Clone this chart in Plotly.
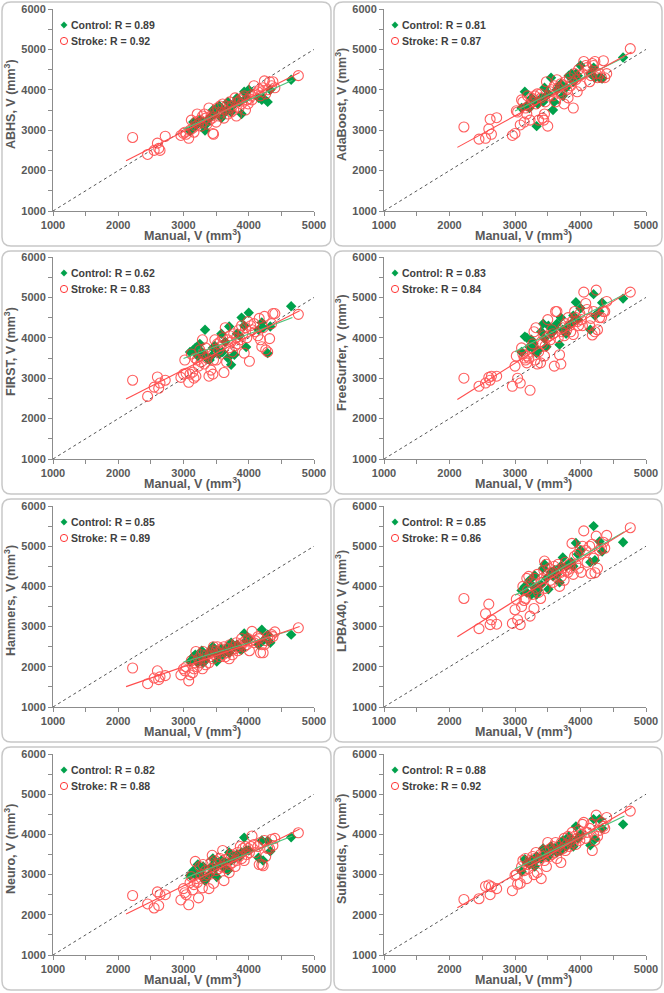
import numpy as np
import plotly.graph_objects as go

# ---------------- data ----------------
panel_names = ["ABHS", "AdaBoost", "FIRST", "FreeSurfer", "Hammers", "LPBA40", "Neuro", "Subfields"]
control_r = ["0.89", "0.81", "0.62", "0.83", "0.85", "0.85", "0.82", "0.88"]
stroke_r = ["0.92", "0.87", "0.83", "0.84", "0.89", "0.86", "0.88", "0.92"]

x_ticks = [1000, 2000, 3000, 4000, 5000]
y_ticks = [1000, 2000, 3000, 4000, 5000, 6000]

# manual volumes (shared across methods)
stroke_manual = [
    2220, 2450, 2550, 2600, 2620, 2640, 2720, 2960, 3000, 3020,
    3040, 3080, 3100, 3120, 3140, 3160, 3180, 3190, 3210, 3230,
    3250, 3270, 3290, 3300, 3320, 3340, 3360, 3390, 3400, 3420,
    3440, 3450, 3460, 3480, 3500, 3520, 3540, 3560, 3580, 3600,
    3620, 3640, 3660, 3680, 3700, 3710, 3730, 3750, 3770, 3790,
    3810, 3830, 3850, 3870, 3890, 3910, 3930, 3950, 3970, 3990,
    4010, 4030, 4050, 4080, 4100, 4140, 4160, 4180, 4200, 4220,
    4240, 4260, 4290, 4320, 4350, 4370, 4400, 4760]
control_manual = [
    3100, 3150, 3180, 3220, 3250, 3280, 3300, 3330, 3350, 3400,
    3430, 3450, 3480, 3510, 3550, 3580, 3600, 3640, 3680, 3700,
    3730, 3780, 3820, 3860, 3890, 3930, 3960, 4000, 4150, 4200,
    4220, 4290, 4330, 4650]

stroke_abhs = [
    2820, 2400, 2500, 2680, 2550, 2500, 2850, 2870, 2920, 2950,
    2900, 2800, 3000, 3250, 3050, 2950, 3100, 3200, 3400, 3150,
    3250, 3100, 3350, 3200, 3400, 3300, 3150, 3550, 3250, 3350,
    3300, 2920, 2900, 3450, 3200, 3550, 3350, 3600, 3450, 3650,
    3300, 3500, 3600, 3400, 3550, 3700, 3450, 3600, 3500, 3800,
    3350, 3700, 3550, 3750, 3650, 3800, 3850, 3500, 3750, 3650,
    3780, 3850, 3750, 4100, 3900, 3950, 4000, 3850, 3950, 4050,
    4220, 3900, 4000, 4200, 4100, 4200, 4050, 4350]
control_abhs = [
    2980, 3200, 3100, 3200, 3250, 3150, 3200, 2990, 3150, 3300,
    3350, 3500, 3400, 3550, 3600, 3300, 3500, 3450, 3700, 3550,
    3450, 3650, 3800, 3700, 3400, 3950, 3800, 4000, 3800, 3750,
    3800, 3700, 4000, 4250]

stroke_adaboost = [
    3080, 2780, 2800, 3030, 3270, 2900, 3310, 2870, 2920, 3480,
    3450, 3130, 3750, 3700, 3200, 3550, 3400, 3850, 3600, 3250,
    3800, 3700, 3750, 3850, 3650, 3900, 3250, 3900, 3800, 3300,
    3250, 3400, 3700, 4200, 3100, 3850, 3950, 4000, 3850, 4100,
    3700, 4250, 4050, 3950, 4150, 3900, 4100, 3650, 4200, 4000,
    3800, 4300, 4100, 4200, 3550, 4400, 4250, 3950, 4500, 4350,
    4100, 4400, 4700, 4600, 4550, 4200, 4350, 4650, 4600, 4700,
    4400, 4300, 4400, 4300, 4720, 4300, 4400, 5020]
control_adaboost = [
    3550, 3950, 3600, 3550, 3800, 3750, 3700, 3100, 3650, 3800,
    3700, 4050, 3850, 3900, 4300, 3500, 3700, 4000, 4100, 4150,
    3850, 4050, 4350, 4400, 4200, 4400, 4350, 4600, 4400, 4550,
    4300, 4300, 4280, 4800]

stroke_first = [
    2950, 2550, 2780, 3030, 2750, 2880, 2950, 3020, 3100, 3450,
    3120, 2900, 3100, 3600, 3150, 3000, 3500, 3050, 3450, 3300,
    3700, 3400, 3950, 3600, 3350, 3750, 3500, 3050, 3600, 3200,
    3650, 3100, 3450, 3950, 3450, 3850, 3700, 3900, 3800, 4000,
    3140, 4250, 3400, 3950, 3750, 4050, 3900, 3650, 4100, 3800,
    4000, 3850, 4200, 3950, 4300, 4100, 3620, 4250, 4000, 4400,
    3420, 4300, 4200, 4350, 4150, 4050, 4480, 3950, 3780, 4250,
    4530, 3700, 3650, 3980, 4350, 4600, 4600, 4580]
control_first = [
    3650, 3700, 3750, 3550, 3850, 3650, 3600, 4200, 3500, 3450,
    3550, 3750, 3800, 3700, 3600, 4100, 3650, 3900, 3500, 4280,
    3330, 3580, 4100, 4050, 4500, 4300, 3770, 4620, 4200, 4380,
    4250, 3620, 4280, 4780]

stroke_freesurfer = [
    3000, 2800, 2880, 3020, 2950, 3050, 3050, 2800, 3300, 3550,
    3000, 2880, 3750, 3600, 3500, 3450, 3380, 3550, 3500, 2700,
    3750, 3850, 4150, 3450, 4250, 3350, 3650, 3380, 3900, 3850,
    4050, 3550, 3800, 4000, 4450, 4050, 3950, 4200, 4100, 3300,
    4650, 4650, 4000, 3580, 3350, 4150, 4250, 4050, 4350, 4200,
    4500, 4300, 4150, 4400, 4080, 4650, 4500, 4400, 4300, 4600,
    4450, 4300, 5130, 4850, 4700, 4300, 4480, 4070, 4650, 4150,
    5180, 4200, 4500, 4500, 4650, 4650, 4900, 5130]
control_freesurfer = [
    3650, 4030, 4000, 3780, 3950, 3850, 3700, 3620, 3680, 4150,
    4350, 3980, 3780, 4300, 4100, 4150, 4250, 4350, 3830, 4500,
    4200, 4100, 4300, 4350, 4550, 4880, 4450, 4730, 4200, 5080,
    4550, 4650, 4870, 4970]

stroke_hammers = [
    1970, 1580, 1720, 1900, 1680, 1750, 1780, 1800, 1950, 1900,
    2000, 1650, 1800, 2150, 1850, 1950, 2100, 2380, 2000, 2200,
    2100, 2300, 1950, 2380, 2200, 2050, 2300, 2100, 2250, 2350,
    2400, 2200, 2500, 2300, 2400, 2500, 2350, 2250, 2450, 2300,
    2500, 2250, 2350, 2450, 2200, 2550, 2400, 2300, 2500, 2450,
    2600, 2400, 2500, 2550, 2700, 2600, 2500, 2650, 2550, 2700,
    2400, 2650, 2880, 2600, 2650, 2750, 2700, 2350, 2550, 2350,
    2550, 2650, 2750, 2700, 2800, 2750, 2870, 2970]
control_hammers = [
    2130, 2250, 2300, 2100, 2200, 2400, 2100, 2150, 2300, 2350,
    2450, 2500, 2350, 2130, 2300, 2450, 2300, 2400, 2500, 2350,
    2600, 2500, 2550, 2450, 2420, 2830, 2650, 2700, 2550, 2920,
    2650, 2800, 2600, 2800]

stroke_lpba40 = [
    3700, 2950, 3320, 3560, 3050, 3170, 3060, 3080, 3420, 3680,
    3170, 3050, 3500, 4000, 3650, 3700, 4200, 3900, 4250, 3260,
    4100, 3800, 3450, 4200, 3950, 4300, 3850, 3700, 4100, 4200,
    4400, 4630, 3950, 4550, 4300, 4450, 4150, 4350, 4100, 4500,
    4250, 4400, 4550, 4000, 4350, 4250, 4450, 4150, 4600, 4400,
    4350, 4550, 4450, 5070, 4300, 4750, 4550, 4800, 4450, 4900,
    4350, 5000, 5380, 4900, 4600, 5000, 4320, 5050, 4700, 4340,
    5250, 4450, 4900, 4950, 5100, 4950, 5270, 5460]
control_lpba40 = [
    3900, 4000, 3850, 4150, 3800, 4000, 4270, 3800, 3900, 4050,
    4450, 4550, 4200, 3930, 4350, 4250, 4400, 4300, 4100, 4500,
    4720, 4500, 4550, 4600, 4500, 5080, 4800, 4900, 4600, 5500,
    4650, 5120, 4870, 5100]

stroke_neuro = [
    2480, 2270, 2170, 2570, 2230, 2500, 2500, 2370, 2650, 2550,
    2500, 2250, 2800, 2950, 2620, 2750, 3330, 2900, 2800, 2420,
    3200, 3000, 2670, 3250, 2950, 3100, 3000, 2650, 3050, 3300,
    3480, 3150, 2780, 3350, 3100, 3250, 3150, 3400, 3200, 3600,
    2850, 3300, 3150, 3400, 3050, 3250, 3500, 3300, 3450, 3200,
    3350, 3550, 3450, 3700, 3400, 3650, 3350, 3700, 3500, 3650,
    3550, 3700, 3960, 3750, 3550, 3700, 3250, 3800, 3250, 3220,
    3850, 3450, 3650, 3640, 3880, 3720, 3900, 4040]
control_neuro = [
    2980, 3100, 3000, 3250, 3050, 2950, 3200, 2850, 2900, 3000,
    3200, 3400, 3150, 2940, 3300, 3350, 3200, 3300, 3100, 3550,
    3350, 3400, 3500, 3450, 3550, 3920, 3600, 3600, 3420, 3850,
    3350, 3840, 3580, 3930]

stroke_subfields = [
    2380, 2400, 2710, 2740, 2500, 2700, 2650, 2600, 2980, 3000,
    2760, 2780, 3200, 3350, 3100, 3400, 2900, 3250, 3150, 3350,
    3300, 3450, 3000, 3400, 3550, 3050, 3350, 3500, 2900, 3450,
    3600, 3350, 3550, 3200, 3800, 3450, 3650, 3500, 3700, 3550,
    3800, 3400, 3700, 3600, 3300, 3800, 3650, 3900, 3600, 3750,
    3950, 3700, 3850, 4050, 3800, 3950, 3750, 3900, 4100, 3850,
    4000, 4250, 4300, 3900, 4050, 4150, 4250, 3600, 4000, 3850,
    4480, 3950, 4100, 4300, 4200, 4150, 4420, 4580]
control_subfields = [
    3080, 3380, 3300, 3250, 3350, 3300, 3200, 3450, 3400, 3400,
    3650, 3500, 3550, 3450, 3700, 3600, 3650, 3550, 3750, 3600,
    3850, 3700, 3950, 3800, 3700, 4200, 3900, 4000, 3730, 4380,
    3880, 4380, 4150, 4250]

stroke_sets = [stroke_abhs, stroke_adaboost, stroke_first, stroke_freesurfer,
               stroke_hammers, stroke_lpba40, stroke_neuro, stroke_subfields]
control_sets = [control_abhs, control_adaboost, control_first, control_freesurfer,
                control_hammers, control_lpba40, control_neuro, control_subfields]

# ---------------- styling / layout ----------------
W, H = 664, 993
col_px = [(53, 314), (384, 646)]
row_px = [(9, 211), (257, 459), (506, 707), (754, 955)]
panel_cols = [(2, 331), (334, 662)]
panel_rows = [(2, 246), (251, 494), (499, 742), (747, 990)]

GREEN = "#00a14b"
RED = "#ff3535"
AXIS_GRAY = "#8c8c8c"
TEXT_GRAY = "#595959"
LEG_TEXT = "#404040"
FONT = "Liberation Sans, Arial, sans-serif"


def px(x):
    return x / W


def py(y):
    return 1 - y / H


def rounded_rect(x0, y0, x1, y1, r):
    def P(x, y):
        return f"{px(x):.5f},{py(y):.5f}"
    return (f"M {P(x0 + r, y0)} L {P(x1 - r, y0)} Q {P(x1, y0)} {P(x1, y0 + r)} "
            f"L {P(x1, y1 - r)} Q {P(x1, y1)} {P(x1 - r, y1)} "
            f"L {P(x0 + r, y1)} Q {P(x0, y1)} {P(x0, y1 - r)} "
            f"L {P(x0, y0 + r)} Q {P(x0, y0)} {P(x0 + r, y0)} Z")


fig = go.Figure()
layout = dict(
    width=W, height=H, autosize=False,
    margin=dict(l=0, r=0, t=0, b=0),
    paper_bgcolor="white", plot_bgcolor="white",
    font=dict(family=FONT, color=TEXT_GRAY),
    showlegend=False,
    shapes=[], annotations=[],
)

tickfont = dict(family=FONT, size=11, color=TEXT_GRAY, weight="bold")
titlefont = dict(family=FONT, size=12.5, color=TEXT_GRAY, weight="bold")
legfont = dict(family=FONT, size=10.5, color=LEG_TEXT, weight="bold")

for i in range(8):
    row, col = divmod(i, 2)
    sfx = "" if i == 0 else str(i + 1)
    xref, yref = "x" + sfx, "y" + sfx
    cx0, cx1 = col_px[col]
    ry0, ry1 = row_px[row]

    # panel border
    bx0, bx1 = panel_cols[col]
    by0, by1 = panel_rows[row]
    layout["shapes"].append(dict(type="path", xref="paper", yref="paper",
                                 path=rounded_rect(bx0, by0, bx1, by1, 9),
                                 line=dict(color="#c8c8c8", width=1.5),
                                 fillcolor="rgba(0,0,0,0)", layer="below"))

    axis_common = dict(showgrid=False, zeroline=False, showline=True, linecolor=AXIS_GRAY,
                       linewidth=1, ticks="outside", ticklen=4, tickcolor=AXIS_GRAY,
                       tickfont=tickfont, automargin=False)
    layout["xaxis" + sfx] = dict(
        domain=[px(cx0), px(cx1)], anchor=yref, range=[1000, 5000],
        tickvals=x_ticks, ticktext=[str(v) for v in x_ticks],
        minor=dict(dtick=500, tick0=1000, ticks="outside", ticklen=4, tickcolor=AXIS_GRAY, showgrid=False),
        **axis_common)
    layout["yaxis" + sfx] = dict(
        domain=[py(ry1), py(ry0)], anchor=xref, range=[1000, 6000],
        tickvals=y_ticks, ticktext=[str(v) for v in y_ticks],
        minor=dict(dtick=500, tick0=1000, ticks="outside", ticklen=4, tickcolor=AXIS_GRAY, showgrid=False),
        **axis_common)

    # axis titles
    layout["annotations"].append(dict(
        text="Manual, V (mm<sup>3</sup>)", xref="paper", yref="paper",
        x=px(cx0 + 139), y=py(ry1 + 24), xanchor="center", yanchor="middle",
        showarrow=False, font=titlefont))
    layout["annotations"].append(dict(
        text=f"{panel_names[i]}, V (mm<sup>3</sup>)", xref="paper", yref="paper",
        x=px(cx0 - 43), y=py(ry0 + 95), xanchor="center", yanchor="middle",
        textangle=-90, showarrow=False, font=titlefont))

    # legend (key symbols + labels)
    mx, my1, my2 = cx0 + 11, ry0 + 16, ry0 + 32
    d = 3.2
    layout["shapes"].append(dict(
        type="path", xref="paper", yref="paper",
        path=(f"M {px(mx):.5f},{py(my1 - d):.5f} L {px(mx + d):.5f},{py(my1):.5f} "
              f"L {px(mx):.5f},{py(my1 + d):.5f} L {px(mx - d):.5f},{py(my1):.5f} Z"),
        fillcolor=GREEN, line=dict(color=GREEN, width=0.5)))
    r = 3.6
    layout["shapes"].append(dict(
        type="circle", xref="paper", yref="paper",
        x0=px(mx - r), x1=px(mx + r), y0=py(my2 + r), y1=py(my2 - r),
        line=dict(color=RED, width=1), fillcolor="rgba(0,0,0,0)"))
    layout["annotations"].append(dict(
        text=f"Control: R = {control_r[i]}", xref="paper", yref="paper",
        x=px(mx + 5), y=py(my1), xanchor="left", yanchor="middle",
        showarrow=False, font=legfont))
    layout["annotations"].append(dict(
        text=f"Stroke: R = {stroke_r[i]}", xref="paper", yref="paper",
        x=px(mx + 5), y=py(my2), xanchor="left", yanchor="middle",
        showarrow=False, font=legfont))

    # identity line
    fig.add_trace(go.Scatter(x=[1000, 5000], y=[1000, 5000], mode="lines",
                             line=dict(color="#555555", width=1, dash="dot"),
                             xaxis=xref, yaxis=yref, hoverinfo="skip"))

    cy = control_sets[i]
    sy = stroke_sets[i]

    fig.add_trace(go.Scatter(x=control_manual, y=cy, mode="markers",
                             marker=dict(symbol="diamond", size=8, color=GREEN),
                             xaxis=xref, yaxis=yref, name="Control"))
    fig.add_trace(go.Scatter(x=stroke_manual, y=sy, mode="markers",
                             marker=dict(symbol="circle-open", size=10, color=RED,
                                         line=dict(width=1.1, color=RED)),
                             opacity=0.8,
                             xaxis=xref, yaxis=yref, name="Stroke"))

    # regression lines fitted to each group
    for xs, ys, colr in [(control_manual, cy, "#4cc27a"), (stroke_manual, sy, "#ff4d4d")]:
        m, b = np.polyfit(xs, ys, 1)
        xl = [min(xs) - 100, max(xs) + 20]
        fig.add_trace(go.Scatter(x=xl, y=[m * v + b for v in xl], mode="lines",
                                 line=dict(color=colr, width=1.1),
                                 xaxis=xref, yaxis=yref, hoverinfo="skip"))

fig.update_layout(**layout)
fig.write_html("out.html", config={"displayModeBar": False},
               post_script="document.body.style.margin='0px';document.body.style.overflow='hidden';")
